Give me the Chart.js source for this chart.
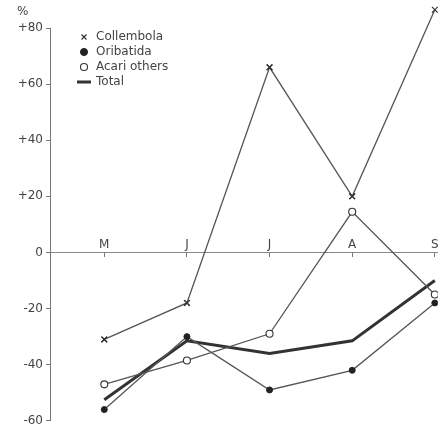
<!DOCTYPE html>
<html><head><meta charset="utf-8">
<script src="https://cdn.jsdelivr.net/npm/chart.js@4"></script>
<style>html,body{margin:0;padding:0;background:#fff}</style>
</head><body>
<canvas id="c" width="443" height="431" style="width:443px;height:431px;display:block"></canvas>
<script>
const months = ['M', 'J', 'J', 'A', 'S'];
const monthPos = [0, 1, 2, 3, 4];
const yTickValues = [-60, -40, -20, 0, 20, 40, 60, 80];
const collembola = [-31, -18, 66, 20, 86.5];
const oribatida = [-56, -30, -49, -42, -18];
const acariOthers = [-47, -38.5, -29, 14.5, -15];
const total = [-52.5, -31.5, -36, -31.5, -10];

const FONT = 'DejaVu Sans';
const INK = '#444';
const LINE = '#555';

const pts = arr => arr.map((v, i) => ({x: monthPos[i], y: v}));

// legend swatch for the Total line
const totalSwatch = document.createElement('canvas');
totalSwatch.width = 14; totalSwatch.height = 4;
(function(){ const g = totalSwatch.getContext('2d'); g.fillStyle = '#333'; g.fillRect(0, 0.5, 14, 3); })();

const overflowPoints = {
  id: 'overflowPoints',
  afterDatasetsDraw(chart) {
    const meta = chart.getDatasetMeta(0);
    meta.data.forEach(p => p.draw(chart.ctx));
  }
};
const shiftLegend = {
  id: 'shiftLegend',
  afterLayout(chart) {
    if (chart.legend) {
      chart.legend.left = chart.chartArea.left + 25;
      chart.legend.top = chart.chartArea.top;
    }
  }
};
const percentLabel = {
  id: 'percentLabel',
  afterDraw(chart) {
    const ctx = chart.ctx;
    ctx.save();
    ctx.font = '12px "' + FONT + '"';
    ctx.fillStyle = INK;
    ctx.textBaseline = 'middle';
    ctx.fillText('%', 17, 12);
    ctx.restore();
  }
};

new Chart(document.getElementById('c'), {
  type: 'line',
  data: {
    datasets: [
      { label: 'Collembola', data: pts(collembola), borderColor: LINE, borderWidth: 1.3,
        pointStyle: 'crossRot', pointRadius: 4, pointBorderColor: '#333', pointBorderWidth: 1.2,
        pointBackgroundColor: '#333', clip: false, tension: 0 },
      { label: 'Oribatida', data: pts(oribatida), borderColor: LINE, borderWidth: 1.3,
        pointStyle: 'circle', pointRadius: 3, pointBorderColor: '#222', pointBorderWidth: 1,
        pointBackgroundColor: '#222', tension: 0 },
      { label: 'Acari others', data: pts(acariOthers), borderColor: LINE, borderWidth: 1.3,
        pointStyle: 'circle', pointRadius: 3.5, pointBorderColor: '#333', pointBorderWidth: 1.1,
        pointBackgroundColor: '#fff', tension: 0 },
      { label: 'Total', data: pts(total), borderColor: '#333', borderWidth: 3,
        pointStyle: totalSwatch, pointRadius: 0, pointHoverRadius: 0, tension: 0 }
    ]
  },
  options: {
    responsive: false,
    animation: false,
    devicePixelRatio: 1,
    layout: { padding: { top: 28, right: 0, bottom: 8, left: 0 } },
    scales: {
      x: {
        type: 'linear',
        min: -0.657, max: 4.036,
        position: { y: 0 },
        afterBuildTicks: s => { s.ticks = monthPos.map(v => ({value: v})); },
        afterFit: s => { s.height = 0; },
        grid: { drawOnChartArea: false, drawTicks: true, tickLength: 4, color: '#777', lineWidth: 1 },
        border: { display: true, color: '#888', width: 1 },
        ticks: { callback: v => months[v] ?? '', padding: -19, maxRotation: 0, autoSkip: false,
                 color: INK, font: { family: FONT, size: 12 } }
      },
      y: {
        type: 'linear',
        min: -60, max: 80,
        afterBuildTicks: s => { s.ticks = yTickValues.map(v => ({value: v})); },
        afterFit: s => { s.width = 50; },
        grid: { drawOnChartArea: false, drawTicks: true, tickLength: 4, color: '#777' },
        border: { display: true, color: '#777', width: 1 },
        ticks: { callback: v => v > 0 ? '+' + v : String(v), padding: 3,
                 color: INK, font: { family: FONT, size: 12 } }
      }
    },
    plugins: {
      legend: {
        position: 'chartArea',
        align: 'start',
        labels: { usePointStyle: true, boxWidth: 12, boxHeight: 5, padding: 3,
                  color: INK, font: { family: FONT, size: 12 } }
      },
      tooltip: { enabled: false },
      title: { display: false }
    }
  },
  plugins: [overflowPoints, shiftLegend, percentLabel]
});
</script>
</body></html>
